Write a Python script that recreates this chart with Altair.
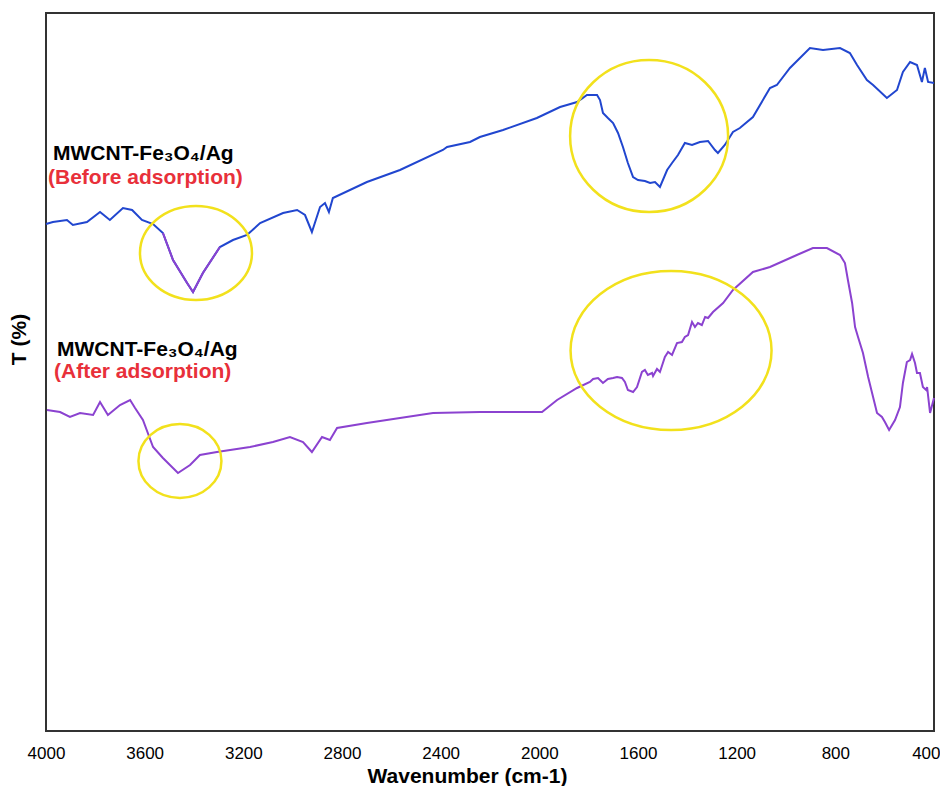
import altair as alt
import pandas as pd

# ---- data (wavenumber cm-1, transmittance a.u.) ----
before_wn = [4000, 3972, 3915, 3891, 3834, 3781, 3741, 3688, 3651, 3611, 3566, 3526,
             3485, 3428, 3404, 3364, 3295, 3242, 3185, 3132, 3039, 2982, 2950, 2922,
             2889, 2869, 2853, 2837, 2699, 2565, 2391, 2374, 2281, 2241, 2147, 2010,
             1916, 1888, 1847, 1807, 1766, 1754, 1742, 1722, 1701, 1681, 1661, 1641,
             1620, 1600, 1572, 1551, 1531, 1511, 1482, 1462, 1438, 1410, 1381, 1349,
             1316, 1288, 1276, 1248, 1215, 1187,
             1134, 1065, 1037, 984, 903, 850, 781,
             741, 712, 672, 647, 591, 550, 526, 497, 469, 449, 437, 424, 400]
before_t = [50.7, 50.9, 51.1, 50.6, 50.9, 51.9, 51.1, 52.3, 52.1, 51.1, 50.7, 49.8,
            47.1, 44.8, 43.9, 45.8, 48.4, 49.1, 49.6, 50.8, 51.8, 52.1, 51.6, 49.9,
            52.4, 52.8, 51.9, 53.3, 54.9, 56.1, 58.1, 58.4, 58.9, 59.4, 60.1, 61.3,
            62.4, 62.6, 62.9, 63.6, 63.6, 63.1, 61.8, 61.3, 60.8, 59.8, 58.4, 56.8,
            55.4, 55.1, 55.0, 54.8, 54.9, 54.4, 56.1, 56.8, 57.6, 58.8, 58.6, 58.9,
            59.0, 58.1, 57.8, 58.6, 59.9, 60.3,
            61.4, 64.3, 64.6, 66.3, 68.3, 68.1, 68.3,
            67.8, 66.6, 65.1, 64.6, 63.3, 64.1, 65.9, 66.9, 66.6, 64.9, 66.3, 64.9, 64.8]

after_wn = [3996, 3943, 3903, 3862, 3809, 3781, 3749, 3700, 3659, 3639, 3607, 3566,
            3526, 3465, 3416, 3376, 3307, 3173, 3080, 3011, 2958, 2922, 2881, 2849,
            2820, 2699, 2565, 2431, 2241, 2147, 1989, 1928, 1847, 1795, 1782, 1762,
            1742, 1722, 1701, 1685, 1665, 1653, 1641, 1620, 1604, 1584, 1572, 1560,
            1543, 1539, 1523, 1511, 1491, 1478, 1462, 1442, 1422, 1410, 1397, 1381,
            1369, 1357, 1341, 1328, 1316, 1296, 1255, 1215, 1134, 1065, 956, 891,
            834, 781, 761, 749, 732, 720, 708, 688, 667, 647, 631, 611, 599, 582,
            558, 538, 526, 510, 497, 489, 477, 469, 457, 445, 432, 428, 416, 400]
after_t = [32.1, 31.9, 31.4, 31.8, 31.6, 32.9, 31.6, 32.6, 33.1, 32.3, 31.1, 28.4,
           27.3, 25.8, 26.6, 27.6, 27.9, 28.4, 28.9, 29.4, 28.9, 27.9, 29.4, 29.1,
           30.3, 30.8, 31.3, 31.8, 31.9, 31.9, 31.9, 33.1, 34.3, 34.9, 35.2, 35.3,
           34.8, 35.2, 35.3, 35.4, 35.3, 34.9, 34.1, 33.9, 34.4, 35.9, 36.1, 35.6,
           35.8, 35.5, 36.2, 35.9, 37.4, 37.9, 37.6, 38.8, 38.9, 39.4, 39.6, 40.9,
           40.4, 40.8, 40.6, 41.4, 41.3, 41.9, 42.8, 44.1, 45.9, 46.4, 47.6, 48.3,
           48.3, 47.6, 46.8, 45.1, 42.8, 40.4, 39.4, 37.8, 35.4, 33.4, 31.8, 31.4, 30.9, 30.1,
           31.1, 32.4, 34.8, 36.9, 37.1, 37.7, 36.8, 35.8, 35.8, 34.4, 34.1, 34.4, 31.8, 33.3]

# centres of the highlighted (circled) bands
ellipse_wn = [3392, 1555, 3457, 1466]
ellipse_t = [47.8, 59.5, 27.0, 38.05]

x_ticks = [4000, 3600, 3200, 2800, 2400, 2000, 1600, 1200, 800, 400]

label_texts = ["MWCNT-Fe\u2083O\u2084/Ag", "(Before adsorption)",
               "MWCNT-Fe\u2083O\u2084/Ag", "(After adsorption)"]

# ---- styling ----
W, H = 888, 718
Y_DOMAIN = [0, 71.8]
BLUE = "#2146CF"
PURPLE = "#8B42D0"
YELLOW = "#F2E11C"
RED = "#E8303A"
FONT = "Liberation Sans"
# ellipse radii in pixels (rx, ry)
ELLIPSE_RADII = [(56, 47), (79, 76), (41.5, 37), (100.5, 79.5)]
# label placement in plot pixels (left x, baseline y) and colours
LABEL_POS = [(7, 147), (2, 171), (11, 343), (8, 365)]
LABEL_COLORS = ["black", RED, "black", RED]


def ellipse_path(rx, ry):
    k = ry / rx
    return f"M -1 0 A 1 {k:.4f} 0 1 1 1 0 A 1 {k:.4f} 0 1 1 -1 0 Z"


before = pd.DataFrame({"wn": before_wn, "T": before_t})
after = pd.DataFrame({"wn": after_wn, "T": after_t})
ell = pd.DataFrame({
    "wn": ellipse_wn,
    "T": ellipse_t,
    "shape": [ellipse_path(rx, ry) for rx, ry in ELLIPSE_RADII],
    "size": [4 * rx * rx for rx, ry in ELLIPSE_RADII],
})

xscale = alt.Scale(domain=[400, 4000], reverse=True, nice=False, zero=False)
yscale = alt.Scale(domain=Y_DOMAIN, nice=False, zero=False)

x_axis = alt.Axis(
    values=x_ticks, title="Wavenumber (cm-1)", format="d",
    labelFlush=False, ticks=False, domain=False, grid=False,
    labelAlign={"condition": {"test": "datum.value === 400", "value": "right"},
                "value": "center"},
    labelOffset={"condition": {"test": "datum.value === 400", "value": 6},
                 "value": 0},
    labelFont=FONT, labelFontSize=17, labelColor="black", labelPadding=14,
    titleFont=FONT, titleFontSize=21, titleFontWeight="bold", titleColor="black",
    titleX=421, titleY=51, titleBaseline="alphabetic", titleAlign="center")
y_axis = alt.Axis(
    title="T (%)", labels=False, ticks=False, domain=False, grid=False,
    titleFont=FONT, titleFontSize=21, titleFontWeight="bold", titleColor="black",
    titleAngle=270, titleX=-27, titleY=326, titleAlign="center", titleBaseline="middle")

X = alt.X("wn:Q", scale=xscale, axis=x_axis)
Y = alt.Y("T:Q", scale=yscale, axis=y_axis)

line_before = alt.Chart(before).mark_line(color=BLUE, strokeWidth=2).encode(x=X, y=Y)
line_before_hl = alt.Chart(before).transform_filter(
    (alt.datum.wn <= 3530) & (alt.datum.wn >= 3290)
).mark_line(color=PURPLE, strokeWidth=2).encode(x=X, y=Y)
line_after = alt.Chart(after).mark_line(color=PURPLE, strokeWidth=2).encode(x=X, y=Y)

ellipses = alt.Chart(ell).mark_point(
    filled=False, stroke=YELLOW, strokeWidth=2.5, opacity=1
).encode(
    x=X, y=Y,
    shape=alt.Shape("shape:N", scale=None, legend=None),
    size=alt.Size("size:Q", scale=None, legend=None),
)

labels = []
for txt, (px, py), col in zip(label_texts, LABEL_POS, LABEL_COLORS):
    labels.append(
        alt.Chart(pd.DataFrame({"label": [txt]})).mark_text(
            align="left", baseline="alphabetic", font=FONT,
            fontSize=21, fontWeight="bold", color=col
        ).encode(x=alt.value(px), y=alt.value(py), text="label:N")
    )

chart = alt.layer(
    line_before, line_after, line_before_hl, ellipses, *labels
).properties(
    width=W, height=H,
    padding={"left": 38, "top": 5, "right": 6, "bottom": 55},
    autosize=alt.AutoSizeParams(type="none"),
).configure_view(stroke="#333333", strokeWidth=2)

chart.save("out.html", embed_options={"renderer": "svg", "actions": False})
